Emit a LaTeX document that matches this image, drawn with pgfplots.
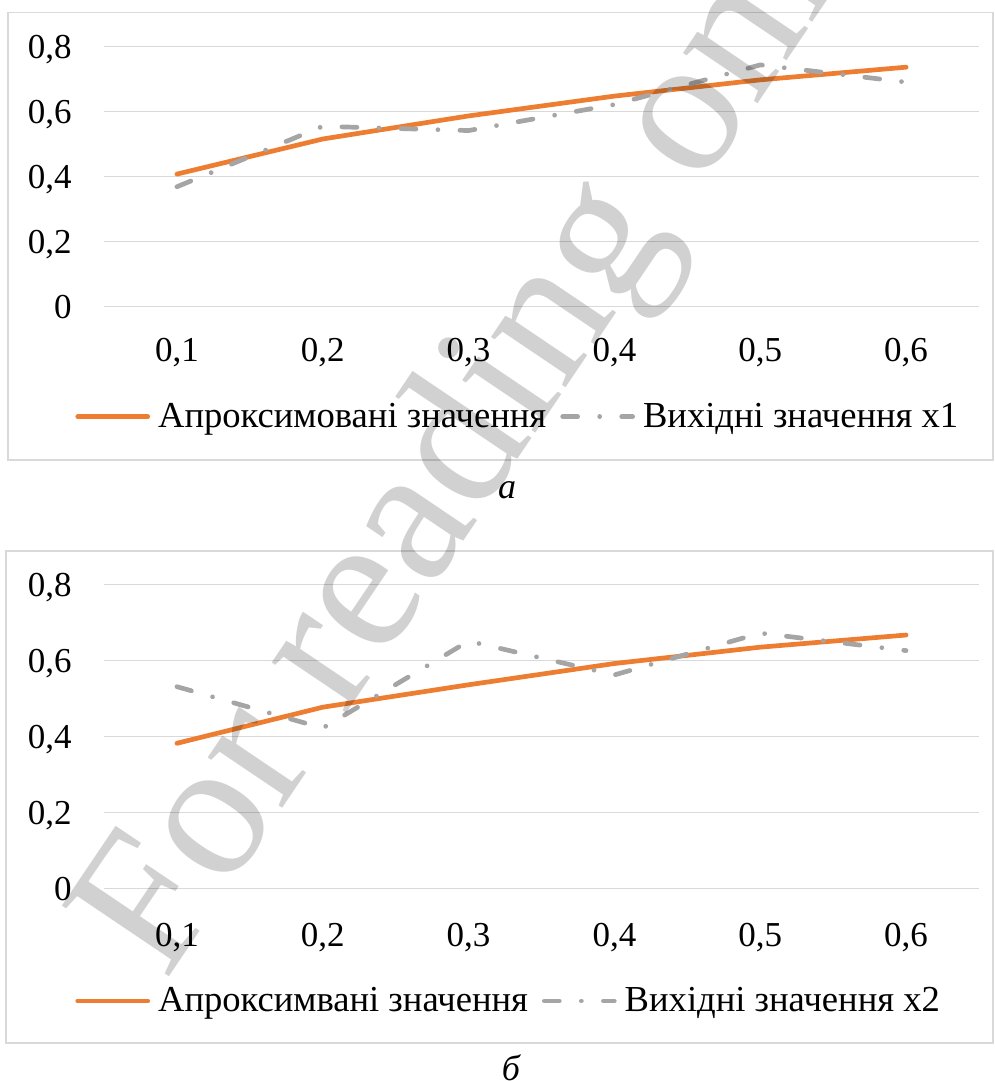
\documentclass[border=0pt]{standalone}
\usepackage{fontspec}
\setmainfont{Liberation Serif}
\usepackage{pgfplots}
\pgfplotsset{compat=1.18}
\definecolor{xlorange}{HTML}{ED7D31}
\definecolor{xlgray}{HTML}{A5A5A5}
\definecolor{xlgrid}{HTML}{D9D9D9}

\pgfplotsset{
  xlchart/.style={
    scale only axis,
    width=437.5pt,
    xmin=0.5, xmax=6.5, ymin=0, ymax=0.8,
    axis line style={draw=none},
    major tick length=0pt,
    ymajorgrids, grid style={xlgrid, line width=0.75pt},
    xtick={1,2,3,4,5,6},
    xticklabels={{0,1},{0,2},{0,3},{0,4},{0,5},{0,6}},
    ytick={0,0.2,0.4,0.6,0.8},
    yticklabels={0,{0,2},{0,4},{0,6},{0,8}},
    tick label style={font=\fontsize{17.5}{21}\selectfont, inner sep=0pt, text depth=0pt},
    yticklabel style={anchor=east, xshift=-16pt},
    legend columns=2,
    legend cell align=left,
    legend image code/.code={\draw (0pt,0pt) -- (35pt,0pt);},
    legend style={draw=none, fill=none, inner sep=0pt, outer sep=0pt,
      font=\fontsize{18.3}{21}\selectfont,
      nodes={inner sep=0pt},
      /tikz/every odd column/.append style={column sep=4pt},
      /tikz/every even column/.append style={column sep=7pt},
      at={(axis description cs:0,0)}, anchor=west, xshift=-14.3pt},
  },
  xlorangeline/.style={xlorange, line width=2.35pt, line cap=round, line join=round, mark=none},
  xlgrayline/.style={xlgray, line width=2.35pt, line cap=round, line join=round, mark=none,
    dash pattern=on 7.5pt off 11pt on 0.01pt off 11pt},
}

\begin{document}
\begin{tikzpicture}
\path[use as bounding box] (0pt,0pt) rectangle (497.5pt,-540.5pt);
\draw[xlgrid, line width=0.75pt] (4pt,-6.35pt) rectangle (496.5pt,-230pt);
\draw[xlgrid, line width=0.75pt] (3pt,-275.5pt) rectangle (496.5pt,-521.5pt);

\begin{axis}[xlchart, height=130pt, at={(52pt,-23.35pt)}, anchor=north west,
  xticklabel style={anchor=north, yshift=-15.7pt},
  legend style={yshift=-55pt}]
\addplot[xlorangeline] coordinates {(1,0.408) (2,0.516) (3,0.587) (4,0.648) (5,0.698) (6,0.737)};
\addlegendentry{Апроксимовані значення}
\addplot[xlgrayline] coordinates {(1,0.369) (2,0.555) (3,0.542) (4,0.622) (5,0.744) (6,0.691)};
\addlegendentry{Вихідні значення x1}
\end{axis}

\begin{axis}[xlchart, height=151.95pt, at={(52pt,-292.25pt)}, anchor=north west,
  xticklabel style={anchor=north, yshift=-17pt},
  legend style={yshift=-56.3pt}]
\addplot[xlorangeline] coordinates {(1,0.382) (2,0.477) (3,0.536) (4,0.592) (5,0.635) (6,0.667)};
\addlegendentry{Апроксимвані значення}
\addplot[xlgrayline] coordinates {(1,0.531) (2,0.422) (3,0.651) (4,0.562) (5,0.672) (6,0.626)};
\addlegendentry{Вихідні значення x2}
\end{axis}

\node[font=\itshape\fontsize{18}{21}\selectfont, inner sep=0pt] at (253.5pt,-245pt) {а};
\node[font=\itshape\fontsize{18}{21}\selectfont, inner sep=0pt] at (255.5pt,-534pt) {б};

\begin{scope}
\clip (0pt,0pt) rectangle (497.5pt,-540.5pt);
\node[rotate=56, anchor=base west, opacity=0.18, font=\fontsize{98}{100}\selectfont, inner sep=0pt]
  at (82.5pt,-491.5pt) {For reading only};
\end{scope}
\end{tikzpicture}
\end{document}
